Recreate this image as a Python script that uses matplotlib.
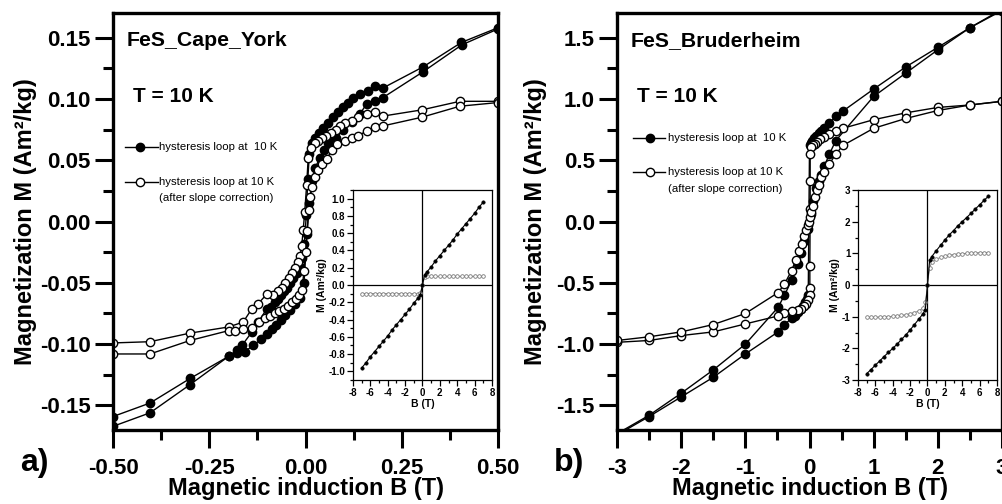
import matplotlib
matplotlib.use("Agg")
import matplotlib.pyplot as plt
from matplotlib.ticker import MultipleLocator, FormatStrFormatter

# ---- FeS Cape York, main loop (B in T, M in Am2/kg) ----
cy_raw_down_B = [0.5, 0.405, 0.305, 0.202, 0.181, 0.162, 0.142, 0.124, 0.110, 0.097, 0.085, 0.071,
                 0.058, 0.045, 0.035, 0.025, 0.017, 0.010, 0.006, 0.002, -0.003, -0.008, -0.015,
                 -0.022, -0.032, -0.040, -0.048, -0.056, -0.064, -0.072, -0.080, -0.090, -0.100,
                 -0.123, -0.139, -0.165, -0.178, -0.200, -0.300, -0.404, -0.5]
cy_raw_down_M = [0.158, 0.146, 0.126, 0.109, 0.1106, 0.106, 0.104, 0.101, 0.097, 0.093, 0.089, 0.085,
                 0.080, 0.076, 0.072, 0.068, 0.064, 0.055, 0.035, 0.005, -0.018, -0.030, -0.037,
                 -0.042, -0.046, -0.050, -0.054, -0.057, -0.060, -0.063, -0.066, -0.070, -0.071,
                 -0.082, -0.090, -0.101, -0.105, -0.110, -0.128, -0.148, -0.159]
cy_raw_up_B = [-0.5, -0.404, -0.3, -0.2, -0.178, -0.157, -0.136, -0.115, -0.100, -0.088, -0.076,
               -0.064, -0.052, -0.040, -0.028, -0.014, -0.004, 0.004, 0.010, 0.017, 0.025, 0.038,
               0.048, 0.059, 0.070, 0.080, 0.098, 0.12, 0.142, 0.159, 0.18, 0.201, 0.305, 0.406, 0.5]
cy_raw_up_M = [-0.167, -0.156, -0.133, -0.110, -0.107, -0.106, -0.101, -0.096, -0.092, -0.088, -0.084,
               -0.080, -0.076, -0.072, -0.067, -0.062, -0.050, -0.010, 0.015, 0.033, 0.044, 0.052,
               0.058, 0.064, 0.066, 0.068, 0.075, 0.081, 0.088, 0.096, 0.098, 0.101, 0.122, 0.144, 0.157]
cy_cor_down_B = [0.5, 0.401, 0.302, 0.202, 0.181, 0.16, 0.137, 0.12, 0.103, 0.090, 0.078, 0.066,
                 0.054, 0.043, 0.033, 0.025, 0.015, 0.007, 0.003, -0.002, -0.006, -0.010, -0.014,
                 -0.020, -0.027, -0.035, -0.043, -0.052, -0.062, -0.072, -0.085, -0.1, -0.123,
                 -0.139, -0.162, -0.2, -0.3, -0.404, -0.5]
cy_cor_down_M = [0.098, 0.098, 0.091, 0.086, 0.089, 0.088, 0.085, 0.082, 0.080, 0.078, 0.075, 0.072,
                 0.070, 0.068, 0.066, 0.064, 0.060, 0.052, 0.030, 0.008, -0.007, -0.020, -0.028,
                 -0.033, -0.038, -0.042, -0.046, -0.050, -0.054, -0.057, -0.060, -0.059, -0.067,
                 -0.071, -0.082, -0.086, -0.091, -0.098, -0.099]
cy_cor_up_B = [-0.5, -0.404, -0.3, -0.2, -0.183, -0.162, -0.14, -0.12, -0.105, -0.092, -0.080,
               -0.068, -0.056, -0.045, -0.035, -0.025, -0.016, -0.009, -0.004, 0.0, 0.004, 0.008,
               0.012, 0.017, 0.024, 0.032, 0.042, 0.055, 0.068, 0.081, 0.103, 0.12, 0.137, 0.16,
               0.181, 0.202, 0.302, 0.401, 0.5]
cy_cor_up_M = [-0.108, -0.108, -0.097, -0.089, -0.089, -0.088, -0.087, -0.082, -0.079, -0.077, -0.075,
               -0.073, -0.071, -0.069, -0.066, -0.063, -0.060, -0.056, -0.040, -0.025, -0.008, 0.009,
               0.020, 0.028, 0.036, 0.042, 0.047, 0.051, 0.058, 0.063, 0.066, 0.068, 0.070, 0.074,
               0.077, 0.078, 0.085, 0.094, 0.097]

# ---- FeS Bruderheim, main loop ----
br_raw_down_B = [3.0, 2.5, 2.0, 1.5, 1.0, 0.52, 0.41, 0.31, 0.23, 0.18, 0.14, 0.10, 0.07, 0.04, 0.02,
                 0.0, -0.02, -0.04, -0.07, -0.10, -0.13, -0.18, -0.23, -0.28, -0.39, -0.49, -1.0,
                 -1.5, -2.0, -2.5, -3.0]
br_raw_down_M = [1.73, 1.58, 1.42, 1.26, 1.08, 0.90, 0.86, 0.80, 0.76, 0.74, 0.72, 0.70, 0.68, 0.66, 0.64,
                 0.62, -0.60, -0.63, -0.66, -0.69, -0.71, -0.74, -0.77, -0.79, -0.84, -0.90, -1.08,
                 -1.27, -1.43, -1.59, -1.74]
br_raw_up_B = [-3.0, -2.5, -2.0, -1.5, -1.0, -0.49, -0.39, -0.28, -0.18, -0.13, -0.08, -0.03, 0.02,
               0.06, 0.10, 0.14, 0.18, 0.23, 0.31, 0.41, 1.0, 1.5, 2.0, 2.5, 3.0]
br_raw_up_M = [-1.73, -1.58, -1.40, -1.21, -1.00, -0.70, -0.60, -0.48, -0.35, -0.26, -0.16, -0.06, 0.06,
               0.17, 0.27, 0.33, 0.38, 0.45, 0.55, 0.66, 1.02, 1.21, 1.40, 1.58, 1.72]
br_cor_down_B = [3.0, 2.5, 2.0, 1.5, 1.0, 0.52, 0.41, 0.31, 0.23, 0.17, 0.12, 0.08, 0.05, 0.03, 0.01,
                 0.01, 0.01, 0.005, 0.005, 0.0, -0.02, -0.05, -0.08, -0.13, -0.18, -0.28, -0.39,
                 -0.49, -1.0, -1.5, -2.0, -2.5, -3.0]
br_cor_down_M = [0.98, 0.95, 0.93, 0.886, 0.83, 0.76, 0.74, 0.71, 0.69, 0.67, 0.65, 0.63, 0.62, 0.61, 0.55,
                 0.33, 0.10, -0.36, -0.54, -0.60, -0.64, -0.67, -0.69, -0.71, -0.72, -0.73, -0.75,
                 -0.77, -0.835, -0.90, -0.93, -0.97, -0.985]
br_cor_up_B = [-3.0, -2.5, -2.0, -1.5, -1.0, -0.49, -0.39, -0.28, -0.21, -0.16, -0.12, -0.08, -0.05,
               -0.03, -0.01, 0.01, 0.03, 0.05, 0.08, 0.11, 0.14, 0.18, 0.23, 0.31, 0.41, 0.52, 1.0,
               1.5, 2.0, 2.5, 3.0]
br_cor_up_M = [-0.97, -0.94, -0.90, -0.84, -0.75, -0.58, -0.51, -0.40, -0.31, -0.24, -0.18, -0.12, -0.07,
               -0.03, 0.0, 0.04, 0.08, 0.13, 0.20, 0.26, 0.30, 0.36, 0.40, 0.47, 0.55, 0.62, 0.76,
               0.84, 0.905, 0.95, 0.98]

# ---- full-field loops (insets), B up to 7 T ----
inset_B = [-7, -6.5, -6, -5.5, -5, -4.5, -4, -3.5, -3, -2.5, -2, -1.5, -1, -0.5, -0.25, 0,
           0.25, 0.5, 1, 1.5, 2, 2.5, 3, 3.5, 4, 4.5, 5, 5.5, 6, 6.5, 7]
cy_full_raw = [-0.96, -0.90, -0.83, -0.77, -0.71, -0.65, -0.59, -0.52, -0.46, -0.40, -0.34, -0.28,
               -0.21, -0.15, -0.12, 0.0, 0.12, 0.15, 0.21, 0.28, 0.34, 0.40, 0.46, 0.52, 0.59, 0.65,
               0.71, 0.77, 0.83, 0.90, 0.96]
cy_full_cor = [-0.10, -0.10, -0.10, -0.10, -0.10, -0.10, -0.10, -0.10, -0.10, -0.10, -0.10, -0.10,
               -0.10, -0.10, -0.09, 0.0, 0.09, 0.10, 0.10, 0.10, 0.10, 0.10, 0.10, 0.10, 0.10, 0.10,
               0.10, 0.10, 0.10, 0.10, 0.10]
br_full_raw = [-2.80, -2.67, -2.53, -2.40, -2.26, -2.13, -2.00, -1.87, -1.72, -1.58, -1.42, -1.25,
               -1.08, -0.90, -0.78, 0.0, 0.78, 0.90, 1.08, 1.25, 1.42, 1.58, 1.72, 1.87, 2.00, 2.13,
               2.26, 2.40, 2.53, 2.67, 2.80]
br_full_cor = [-1.02, -1.02, -1.02, -1.01, -1.01, -1.00, -0.99, -0.98, -0.96, -0.94, -0.91, -0.87,
               -0.82, -0.72, -0.55, 0.0, 0.55, 0.72, 0.82, 0.87, 0.91, 0.94, 0.96, 0.98, 0.99, 1.00,
               1.01, 1.01, 1.02, 1.02, 1.02]

plt.rcParams['font.family'] = ['Liberation Sans', 'DejaVu Sans']
plt.rcParams['font.weight'] = 'bold'
plt.rcParams['axes.unicode_minus'] = False

fig = plt.figure(figsize=(10.03, 5.04), dpi=100)


def loop(ax, B, M, filled, ms=6.0):
    ax.plot(B, M, color='black', lw=1.0, marker='o', ms=ms, mew=1.0,
            mfc='black' if filled else 'white', mec='black', clip_on=True)


def main_axes(ax, xlim, ylim, xmaj, ymaj, xfmt, yfmt):
    ax.set_xlim(*xlim)
    ax.set_ylim(*ylim)
    ax.xaxis.set_major_locator(MultipleLocator(xmaj))
    ax.xaxis.set_minor_locator(MultipleLocator(xmaj / 2))
    ax.yaxis.set_major_locator(MultipleLocator(ymaj))
    ax.yaxis.set_minor_locator(MultipleLocator(ymaj / 2))
    ax.xaxis.set_major_formatter(FormatStrFormatter(xfmt))
    ax.yaxis.set_major_formatter(FormatStrFormatter(yfmt))
    ax.tick_params(which='major', direction='out', length=13, width=2.2, labelsize=16)
    ax.tick_params(which='minor', direction='out', length=7, width=2.2)
    ax.tick_params(axis='x', pad=7)
    ax.tick_params(axis='y', pad=3)
    for s in ax.spines.values():
        s.set_linewidth(2.4)
    ax.set_xlabel('Magnetic induction B (T)', fontsize=17, fontweight='bold', labelpad=-1)
    ax.set_ylabel('Magnetization M (Am\u00b2/kg)', fontsize=17, fontweight='bold')


def key(ax, xs, ys, text_x):
    # hand-placed legend: two samples, second with a two-line caption
    for y, filled in zip(ys[:2], [True, False]):
        ax.plot([xs[0], xs[2]], [y, y], color='black', lw=1.0, transform=ax.transAxes)
        ax.plot([xs[1]], [y], color='black', marker='o', ms=6, mew=1.0,
                mfc='black' if filled else 'white', transform=ax.transAxes)
    ax.text(text_x, ys[0], 'hysteresis loop at  10 K', transform=ax.transAxes,
            fontsize=8.2, fontweight='normal', va='center')
    ax.text(text_x, ys[1], 'hysteresis loop at 10 K', transform=ax.transAxes,
            fontsize=8.2, fontweight='normal', va='center')
    ax.text(text_x, ys[2], '(after slope correction)', transform=ax.transAxes,
            fontsize=8.2, fontweight='normal', va='center')


def inset_axes(rect, ylim, ymaj, yfmt, B, raw, cor):
    ins = fig.add_axes(rect)
    ins.set_facecolor('white')
    ins.set_xlim(-8, 8)
    ins.set_ylim(*ylim)
    ins.axhline(0, color='black', lw=0.9)
    ins.axvline(0, color='black', lw=0.9)
    ins.plot(B, cor, color='#777777', lw=0.6, marker='o', ms=2.6, mew=0.6,
             mfc='white', mec='#777777')
    ins.plot(B, raw, color='black', lw=0.8, marker='o', ms=2.4, mew=0.5,
             mfc='black', mec='black')
    ins.xaxis.set_major_locator(MultipleLocator(2))
    ins.xaxis.set_minor_locator(MultipleLocator(1))
    ins.yaxis.set_major_locator(MultipleLocator(ymaj))
    ins.yaxis.set_minor_locator(MultipleLocator(ymaj / 2))
    ins.yaxis.set_major_formatter(FormatStrFormatter(yfmt))
    ins.tick_params(which='major', direction='out', length=4, width=0.9, labelsize=7, pad=1.5)
    ins.tick_params(which='minor', direction='out', length=2, width=0.9)
    for s in ins.spines.values():
        s.set_linewidth(0.9)
    ins.set_xlabel('B (T)', fontsize=7.5, fontweight='bold', labelpad=1)
    ins.set_ylabel('M (Am\u00b2/kg)', fontsize=7.5, fontweight='bold', labelpad=1)
    return ins


# ---- panel a) ----
ax1 = fig.add_axes([0.1127, 0.1468, 0.3838, 0.8274])
loop(ax1, cy_raw_down_B, cy_raw_down_M, True)
loop(ax1, cy_raw_up_B, cy_raw_up_M, True)
loop(ax1, cy_cor_down_B, cy_cor_down_M, False)
loop(ax1, cy_cor_up_B, cy_cor_up_M, False)
main_axes(ax1, (-0.5, 0.5), (-0.17, 0.17), 0.25, 0.05, '%.2f', '%.2f')
ax1.yaxis.set_label_coords(-0.197, 0.5)
ax1.text(0.034, 0.933, 'FeS_Cape_York', transform=ax1.transAxes, fontsize=15.3,
         fontweight='bold', va='center')
ax1.text(0.052, 0.80, 'T = 10 K', transform=ax1.transAxes, fontsize=15,
         fontweight='bold', va='center')
key(ax1, [0.031, 0.070, 0.117], [0.679, 0.595, 0.556], 0.120)
inset_axes([0.3519, 0.246, 0.1386, 0.377], (-1.1, 1.1), 0.2, '%.1f',
           inset_B, cy_full_raw, cy_full_cor)
fig.text(0.02, 0.081, 'a)', fontsize=23, fontweight='bold', va='center')

# ---- panel b) ----
ax2 = fig.add_axes([0.6152, 0.1468, 0.3838, 0.8274])
loop(ax2, br_raw_down_B, br_raw_down_M, True)
loop(ax2, br_raw_up_B, br_raw_up_M, True)
loop(ax2, br_cor_down_B, br_cor_down_M, False)
loop(ax2, br_cor_up_B, br_cor_up_M, False)
main_axes(ax2, (-3, 3), (-1.7, 1.7), 1, 0.5, '%d', '%.1f')
ax2.yaxis.set_label_coords(-0.182, 0.5)
ax2.text(0.034, 0.933, 'FeS_Bruderheim', transform=ax2.transAxes, fontsize=15.3,
         fontweight='bold', va='center')
ax2.text(0.052, 0.80, 'T = 10 K', transform=ax2.transAxes, fontsize=15,
         fontweight='bold', va='center')
key(ax2, [0.0416, 0.0857, 0.1247], [0.700, 0.619, 0.578], 0.132)
inset_axes([0.8554, 0.246, 0.1386, 0.377], (-3, 3), 1, '%d',
           inset_B, br_full_raw, br_full_cor)
fig.text(0.552, 0.081, 'b)', fontsize=23, fontweight='bold', va='center')

fig.savefig('out.png', dpi=100)
